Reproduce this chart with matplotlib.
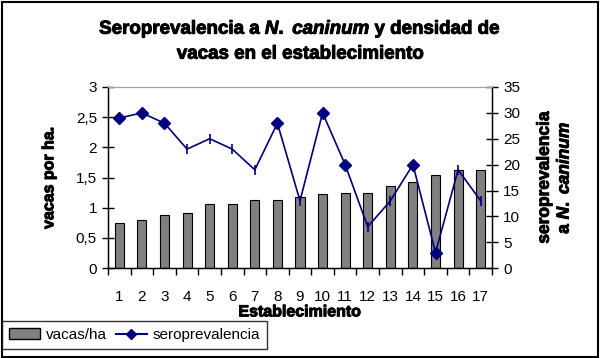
import matplotlib.pyplot as plt
import matplotlib.patheffects as pe
from matplotlib.lines import Line2D
from matplotlib.patches import Patch

plt.rcParams["font.family"] = ["Liberation Sans", "DejaVu Sans"]
plt.rcParams["mathtext.fontset"] = "custom"
plt.rcParams["mathtext.it"] = "Liberation Sans:bold:italic"
plt.rcParams["mathtext.rm"] = "Liberation Sans:bold"
plt.rcParams["mathtext.bf"] = "Liberation Sans:bold"

# datos
establecimientos = list(range(1, 18))
vacas_ha = [0.75, 0.80, 0.88, 0.91, 1.06, 1.06, 1.13, 1.13, 1.18,
            1.22, 1.24, 1.24, 1.36, 1.42, 1.55, 1.62, 1.62]
seroprev = [29, 30, 28, 23, 25, 23, 19, 28, 13, 30, 20, 8, 13, 20, 3, 19, 13]
con_rombo = [1, 2, 3, 8, 10, 11, 14, 15]

left_ticks = [0, 0.5, 1, 1.5, 2, 2.5, 3]
left_labels = ["0", "0,5", "1", "1,5", "2", "2,5", "3"]
right_ticks = [0, 5, 10, 15, 20, 25, 30, 35]

navy = "#000080"
grueso = [pe.withStroke(linewidth=0.7, foreground="black")]

fig = plt.figure(figsize=(6, 3.58), dpi=100)
ax = fig.add_axes([0.18, 0.251, 0.64, 0.506])

ax.bar(establecimientos, vacas_ha, width=0.4, color="#808080",
       edgecolor="black", linewidth=0.8, zorder=2)
ax.set_xlim(0.5, 17.5)
ax.set_ylim(0, 3)
ax.set_yticks(left_ticks)
ax.set_yticklabels(left_labels, fontsize=11)
ax.set_xticks(establecimientos)
ax.set_xticklabels([str(e) for e in establecimientos], fontsize=11)
ax.tick_params(axis="x", length=0, pad=16)
ax.set_xticks([e + 0.5 for e in [0] + establecimientos], minor=True)
ax.tick_params(axis="x", which="minor", direction="out", length=5, width=1)
ax.tick_params(axis="y", direction="inout", length=8, width=1, pad=4)
ax.spines["top"].set_color("#a0a0a0")
for s in ["left", "bottom"]:
    ax.spines[s].set_linewidth(1)
ax.set_ylabel("vacas por ha.", fontsize=11.5, fontweight="bold", labelpad=14,
              path_effects=grueso)
ax.set_xlabel("Establecimiento", fontsize=11.5, fontweight="bold", labelpad=0,
              path_effects=grueso)

ax2 = ax.twinx()
ax2.plot(establecimientos, seroprev, color=navy, linewidth=1.2, zorder=3)
xs = [e for e in establecimientos if e in con_rombo]
ys = [seroprev[e - 1] for e in xs]
ax2.plot(xs, ys, linestyle="none", marker="D", markersize=6, color=navy)
xs2 = [e for e in establecimientos if e not in con_rombo]
ys2 = [seroprev[e - 1] for e in xs2]
ax2.plot(xs2, ys2, linestyle="none", marker="|", markersize=7,
         markeredgewidth=1.2, color=navy)
ax2.set_ylim(0, 35)
ax2.set_yticks(right_ticks)
ax2.tick_params(axis="y", direction="inout", length=8, width=1, labelsize=11, pad=4)
ax2.spines["top"].set_color("#a0a0a0")
ax2.spines["right"].set_linewidth(1)
ax2.set_ylabel("seroprevalencia\n" + r"a $N.$ $caninum$", fontsize=12.5,
               fontweight="bold", labelpad=12, linespacing=1.3,
               path_effects=grueso)

fig.text(0.5, 0.825, "Seroprevalencia a " + r"$N.$ $caninum$" + " y densidad de\n"
         "vacas en el establecimiento", ha="center", va="bottom",
         fontsize=13.5, fontweight="bold", linespacing=1.45,
         path_effects=grueso)

handles = [Patch(facecolor="#808080", edgecolor="black", label="vacas/ha"),
           Line2D([], [], color=navy, marker="D", markersize=5, label="seroprevalencia")]
leg = fig.legend(handles=handles, loc="lower left", bbox_to_anchor=(0.004, 0.025),
                 ncol=2, fontsize=11, frameon=True, fancybox=False,
                 edgecolor="black", borderpad=0.45, handlelength=2.0,
                 handletextpad=0.4, columnspacing=0.6, borderaxespad=0)
leg.get_frame().set_linewidth(1)

fig.patches.append(plt.Rectangle((0.003, 0.004), 0.994, 0.99, transform=fig.transFigure,
                                 fill=False, edgecolor="black", linewidth=1.5))

fig.savefig("out.png", dpi=100)
